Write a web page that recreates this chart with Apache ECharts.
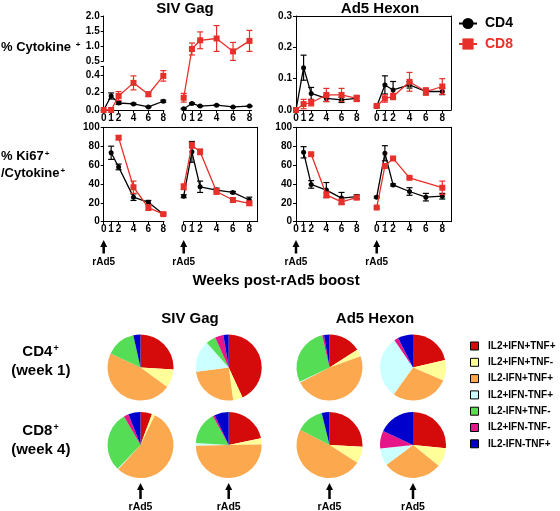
<!DOCTYPE html>
<html><head><meta charset="utf-8">
<script src="https://cdn.jsdelivr.net/npm/echarts@6/dist/echarts.min.js"></script>
<style>html,body{margin:0;padding:0;background:#fff}#c{width:560px;height:511px}</style>
</head><body><div id="c"></div>
<script>
// ---------------- DATA ----------------
const weeks = [0, 1, 2, 4, 6, 8];
const weekTicks = [0, 1, 2, 4, 6, 8];
const seriesNames = ['CD4', 'CD8'];

// SIV Gag % cytokine+ (first boost / second boost), mean and SEM
const sivCytoCD4a = [0.00, 0.16, 0.08, 0.07, 0.035, 0.10];
const sivCytoCD4aErr = [0, 0.035, 0.015, 0.008, 0.006, 0.012];
const sivCytoCD8a = [0.00, 0.00, 0.16, 0.31, 0.18, 0.39];
const sivCytoCD8aErr = [0, 0, 0.05, 0.08, 0.025, 0.06];
const sivCytoCD4b = [0.015, 0.075, 0.045, 0.055, 0.035, 0.045];
const sivCytoCD4bErr = [0.004, 0.006, 0.005, 0.005, 0.004, 0.005];
const sivCytoCD8b = [0.14, 0.90, 1.19, 1.25, 0.82, 1.17];
const sivCytoCD8bErr = [0.05, 0.20, 0.28, 0.43, 0.30, 0.35];

// Ad5 Hexon % cytokine+
const adCytoCD4a = [0.000, 0.135, 0.053, 0.037, 0.032, 0.037];
const adCytoCD4aErr = [0, 0.040, 0.019, 0.010, 0.008, 0.007];
const adCytoCD8a = [0.000, 0.019, 0.023, 0.048, 0.048, 0.037];
const adCytoCD8aErr = [0, 0.015, 0.010, 0.021, 0.021, 0.010];
const adCytoCD4b = [0.011, 0.080, 0.064, 0.080, 0.059, 0.059];
const adCytoCD4bErr = [0.003, 0.029, 0.027, 0.010, 0.008, 0.010];
const adCytoCD8b = [0.013, 0.037, 0.043, 0.090, 0.059, 0.075];
const adCytoCD8bErr = [0.005, 0.012, 0.010, 0.030, 0.012, 0.025];

// SIV Gag % Ki67+ / cytokine+
const sivKiCD4a = [null, 73, 58, 26, 20.5, 8];
const sivKiCD4aErr = [0, 7, 3, 3.5, 2, 1];
const sivKiCD8a = [null, null, 89, 36.5, 15, 8];
const sivKiCD8aErr = [0, 0, 2, 6.5, 3, 1];
const sivKiCD4b = [27, 74, 37, 33.5, 31, 23];
const sivKiCD4bErr = [1.5, 11, 6, 2, 1, 3];
const sivKiCD8b = [37, 81, 74, 32, 23, 19.5];
const sivKiCD8bErr = [3, 3, 3, 3, 2, 2];

// Ad5 Hexon % Ki67+ / cytokine+
const adKiCD4a = [null, 73.5, 39.5, 33.5, 25, 26.5];
const adKiCD4aErr = [0, 6, 4, 8, 6, 2];
const adKiCD8a = [null, null, 71.5, 28.5, 21, 25.5];
const adKiCD8aErr = [0, 0, 1, 3, 3, 2];
const adKiCD4b = [26, 72.5, 39, 32, 26, 27];
const adKiCD4bErr = [1, 8, 1, 4, 4, 3];
const adKiCD8b = [15, 59, 67, 46.5, null, 36];
const adKiCD8bErr = [1, 1, 1, 1, 0, 7];

// Pie categories and slices (% of response)
const pieCats = ['IL2+IFN+TNF+', 'IL2+IFN+TNF-', 'IL2-IFN+TNF+', 'IL2+IFN-TNF+', 'IL2-IFN+TNF-', 'IL2+IFN-TNF-', 'IL2-IFN-TNF+'];
const pieCD4SivA = [26, 9, 47, 0, 14.5, 0, 3.5];
const pieCD4SivB = [43, 4.7, 25, 15.5, 4.8, 4.1, 2.6];
const pieCD4AdA = [16, 3.6, 48.2, 0.4, 28.6, 0.9, 2.7];
const pieCD4AdB = [21.3, 10.2, 28.4, 30.6, 0, 2, 7.5];
const pieCD8SivA = [5.7, 1.5, 55, 0.4, 29.6, 2.4, 6];
const pieCD8SivB = [21.7, 3, 50, 1.2, 16, 1, 7];
const pieCD8AdA = [25.8, 8.3, 48.5, 0, 13.6, 0, 3.8];
const pieCD8AdB = [26.6, 9.3, 28.9, 8.5, 0, 8.7, 18];

// ---------------- STYLE / LAYOUT ----------------
const FONT = '"Liberation Sans", Arial, Helvetica, sans-serif';
const BLACK = '#000000';
const RED = '#e8302a';
const pieColors = ['#d50a0a', '#ffff99', '#fca84e', '#ccffff', '#55dd55', '#e6158a', '#0000cc'];
const lbl = { fontSize: 10, fontWeight: 'bold', color: '#000', fontFamily: FONT };

// broken y axis for SIV cytokine panel (display units = px)
function brk(v) { return v <= 0.5 ? v * 87.5 : 49 + (v - 0.5) * 30; }
const ident = v => v;

const grids = [
  { left: 103.7, top: 16, width: 60.3, height: 94 },      // 0 SIV cyto seg1
  { left: 183.7, top: 16, width: 68, height: 94 },        // 1 SIV cyto seg2
  { left: 103.7, top: 66.25, width: 60.3, height: 43.75 },// 2 SIV cyto axis low
  { left: 103.7, top: 16, width: 60.3, height: 45 },      // 3 SIV cyto axis high
  { left: 296, top: 16, width: 61.5, height: 94 },        // 4 Ad5 cyto seg1
  { left: 376.7, top: 16, width: 74.3, height: 94 },      // 5 Ad5 cyto seg2
  { left: 296, top: 16, width: 155, height: 94 },         // 6 Ad5 cyto box
  { left: 103.7, top: 127.3, width: 60.3, height: 94.4 }, // 7 SIV Ki seg1
  { left: 183.7, top: 127.3, width: 74, height: 94.4 },   // 8 SIV Ki seg2
  { left: 103.7, top: 127.3, width: 154, height: 94.4 },  // 9 SIV Ki box
  { left: 296, top: 127.3, width: 61.5, height: 94.4 },   // 10 Ad5 Ki seg1
  { left: 376.7, top: 127.3, width: 74.3, height: 94.4 }, // 11 Ad5 Ki seg2
  { left: 296, top: 127.3, width: 155, height: 94.4 }     // 12 Ad5 Ki box
];
const ppw = [7.45, 8.225, 1, 1, 7.59, 8.2, 1, 7.45, 8.2, 1, 7.59, 8.2, 1];

const axLine = { show: true, onZero: false, lineStyle: { color: BLACK, width: 1 } };
function xVis(gi) {
  return { gridIndex: gi, type: 'value', min: 0, max: grids[gi].width / ppw[gi],
    axisLine: axLine, axisTick: { show: true, customValues: weekTicks, length: 3, lineStyle: { color: BLACK } },
    axisLabel: Object.assign({ customValues: weekTicks, margin: 3 }, lbl), splitLine: { show: false } };
}
function hid(gi, min, max) { return { gridIndex: gi, type: 'value', min, max, show: false }; }
function yVis(gi, min, max, ticks, fmt) {
  return { gridIndex: gi, type: 'value', min, max,
    axisLine: axLine, axisTick: { show: true, customValues: ticks, length: 3, lineStyle: { color: BLACK } },
    axisLabel: Object.assign({ customValues: ticks, margin: 4, formatter: fmt }, lbl), splitLine: { show: false } };
}
function boxX(gi) { return { gridIndex: gi, type: 'value', min: 0, max: 1, position: 'top', axisLine: axLine, axisTick: { show: false }, axisLabel: { show: false }, splitLine: { show: false } }; }
function boxY(gi) { return { gridIndex: gi, type: 'value', min: 0, max: 1, position: 'right', axisLine: axLine, axisTick: { show: false }, axisLabel: { show: false }, splitLine: { show: false } }; }

const f1 = v => v.toFixed(1);
const f0 = v => String(Math.round(v));
const ki = [0, 20, 40, 60, 80, 100];

const xAxes = [xVis(0), xVis(1), hid(2, 0, 1), hid(3, 0, 1), xVis(4), xVis(5), boxX(6), xVis(7), xVis(8), boxX(9), xVis(10), xVis(11), boxX(12)];
const yAxes = [
  hid(0, 0, 94), hid(1, 0, 94),
  yVis(2, 0, 0.5, [0, 0.2, 0.4], f1), yVis(3, 0.5, 2.0, [0.5, 1.0, 1.5, 2.0], f1),
  yVis(4, 0, 0.3, [0, 0.1, 0.2, 0.3], f1), hid(5, 0, 0.3), boxY(6),
  yVis(7, 0, 100, ki, f0), hid(8, 0, 100), boxY(9),
  yVis(10, 0, 100, ki, f0), hid(11, 0, 100), boxY(12)
];
// extra tick at top of low segment
yAxes[2].axisTick.customValues = [0, 0.2, 0.4, 0.5];

function lineS(name, gi, means, tf) {
  const isCD8 = name === 'CD8';
  const data = [];
  weeks.forEach((w, i) => { if (means[i] != null) data.push([w, tf(means[i])]); });
  return { type: 'line', name, xAxisIndex: gi, yAxisIndex: gi, data,
    symbol: isCD8 ? 'rect' : 'circle', symbolSize: isCD8 ? 6 : 5, showSymbol: true,
    color: isCD8 ? RED : BLACK, itemStyle: { color: isCD8 ? RED : BLACK },
    lineStyle: { color: isCD8 ? RED : BLACK, width: 1.3 }, silent: true, z: isCD8 ? 4 : 3 };
}
function errS(name, gi, means, errs, tf) {
  const color = name === 'CD8' ? RED : BLACK;
  const data = [];
  weeks.forEach((w, i) => {
    if (means[i] != null && errs[i] > 0) data.push([w, tf(Math.max(0, means[i] - errs[i])), tf(means[i] + errs[i])]);
  });
  return { type: 'custom', name: name + ' SEM', xAxisIndex: gi, yAxisIndex: gi, data, silent: true,
    encode: { x: 0, y: [1, 2] }, z: name === 'CD8' ? 4 : 3,
    renderItem: (p, api) => {
      const x = api.value(0);
      const a = api.coord([x, api.value(1)]), b = api.coord([x, api.value(2)]);
      const st = { stroke: color, lineWidth: 1.2 }; const c = 3;
      return { type: 'group', children: [
        { type: 'line', shape: { x1: a[0], y1: a[1], x2: b[0], y2: b[1] }, style: st },
        { type: 'line', shape: { x1: b[0] - c, y1: b[1], x2: b[0] + c, y2: b[1] }, style: st },
        { type: 'line', shape: { x1: a[0] - c, y1: a[1], x2: a[0] + c, y2: a[1] }, style: st }
      ] };
    } };
}
function pair(gi, cd4, cd4e, cd8, cd8e, tf) {
  return [errS('CD4', gi, cd4, cd4e, tf), lineS('CD4', gi, cd4, tf), errS('CD8', gi, cd8, cd8e, tf), lineS('CD8', gi, cd8, tf)];
}

const series = [].concat(
  pair(0, sivCytoCD4a, sivCytoCD4aErr, sivCytoCD8a, sivCytoCD8aErr, brk),
  pair(1, sivCytoCD4b, sivCytoCD4bErr, sivCytoCD8b, sivCytoCD8bErr, brk),
  pair(4, adCytoCD4a, adCytoCD4aErr, adCytoCD8a, adCytoCD8aErr, ident),
  pair(5, adCytoCD4b, adCytoCD4bErr, adCytoCD8b, adCytoCD8bErr, ident),
  pair(7, sivKiCD4a, sivKiCD4aErr, sivKiCD8a, sivKiCD8aErr, ident),
  pair(8, sivKiCD4b, sivKiCD4bErr, sivKiCD8b, sivKiCD8bErr, ident),
  pair(10, adKiCD4a, adKiCD4aErr, adKiCD8a, adKiCD8aErr, ident),
  pair(11, adKiCD4b, adKiCD4bErr, adKiCD8b, adKiCD8bErr, ident)
);

const pieCX = [140.5, 228.7, 329.5, 413];
const pieCY = [367.5, 445];
const pieR = 33;
const pieSets = [[pieCD4SivA, pieCD4SivB, pieCD4AdA, pieCD4AdB], [pieCD8SivA, pieCD8SivB, pieCD8AdA, pieCD8AdB]];
pieSets.forEach((row, r) => row.forEach((vals, c) => {
  series.push({ type: 'pie', name: 'pie' + r + c, center: [pieCX[c], pieCY[r]], radius: [0, pieR],
    startAngle: 90, clockwise: true, silent: true, label: { show: false }, labelLine: { show: false },
    itemStyle: { borderWidth: 0 }, emphasis: { disabled: true },
    data: pieCats.map((n, i) => ({ name: n, value: vals[i] })) });
}));

const option = {
  animation: false,
  color: pieColors,
  grid: grids,
  xAxis: xAxes,
  yAxis: yAxes,
  legend: [
    { left: 453, top: 11.5, orient: 'vertical', itemWidth: 18, itemHeight: 14, itemGap: 6.5, selectedMode: false,
      textStyle: { fontSize: 14, fontWeight: 'bold', fontFamily: FONT, padding: [0, 0, 0, 3] },
      data: [{ name: seriesNames[0], textStyle: { color: BLACK } }, { name: seriesNames[1], textStyle: { color: RED } }] },
    { left: 465, top: 335, orient: 'vertical', itemWidth: 8, itemHeight: 8, itemGap: 4.3, selectedMode: false, icon: 'rect',
      itemStyle: { borderColor: BLACK, borderWidth: 1 },
      textStyle: { fontSize: 10, fontWeight: 'bold', fontFamily: FONT, color: BLACK, lineHeight: 12, padding: [0, 0, 0, 4.5] },
      data: pieCats }
  ],
  series
};

const chart = echarts.init(document.getElementById('c'), null, { renderer: 'canvas' });
chart.setOption(option);

// ---------- annotations ----------
function txt(text, x, y, size, align, rich) {
  const st = { text, x, y, fill: '#000', font: 'bold ' + size + 'px ' + FONT, align: align || 'center', verticalAlign: 'middle' };
  if (rich) st.rich = rich;
  return { type: 'text', style: st, silent: true };
}
function supRich(size) {
  return { b: { fontSize: size, fontWeight: 'bold', fontFamily: FONT, fill: '#000', color: '#000' },
           s: { fontSize: Math.round(size * 0.6), fontWeight: 'bold', fontFamily: FONT, color: '#000', verticalAlign: 'top', padding: [0, 0, 0, 1] } };
}
function arrow(x, y1, y2, hw, hh, sw) {
  return { type: 'group', silent: true, children: [
    { type: 'rect', shape: { x: x - sw / 2, y: y1 + hh - 1, width: sw, height: y2 - y1 - hh + 1 }, style: { fill: '#000' } },
    { type: 'polygon', shape: { points: [[x, y1], [x - hw / 2, y1 + hh], [x + hw / 2, y1 + hh]] }, style: { fill: '#000' } }
  ] };
}
const g = [];
g.push(txt('SIV Gag', 185, 8.5, 15));
g.push(txt('Ad5 Hexon', 380, 8.5, 15));
g.push(txt('{b|% Cytokine }{s|+}', 1, 47, 13, 'left', supRich(13)));
g.push(txt('{b|% Ki67}{s|+}', 1, 156.7, 13, 'left', supRich(13)));
g.push(txt('{b|/Cytokine}{s|+}', 1, 173.3, 13, 'left', supRich(13)));
g.push(txt('Weeks post-rAd5 boost', 276, 280.5, 15));
[7, 8, 10, 11].forEach(ai => {
  const x = chart.convertToPixel({ xAxisIndex: ai }, 0);
  g.push(arrow(x, 240, 253.5, 7, 7, 2.5));
  g.push(txt('rAd5', x, 262.5, 10));
});
g.push(txt('SIV Gag', 190, 319, 15));
g.push(txt('Ad5 Hexon', 375, 319, 15));
g.push(txt('{b|CD4}{s|+}', 40.5, 352, 15, 'center', supRich(15)));
g.push(txt('(week 1)', 40.8, 371, 15));
g.push(txt('{b|CD8}{s|+}', 40.5, 431, 15, 'center', supRich(15)));
g.push(txt('(week 4)', 40.8, 450, 15));
pieCX.forEach(x => {
  g.push(arrow(x, 483, 499, 7, 7, 2.5));
  g.push(txt('rAd5', x, 507, 10.5));
});
chart.setOption({ graphic: g });
</script>
</body></html>
